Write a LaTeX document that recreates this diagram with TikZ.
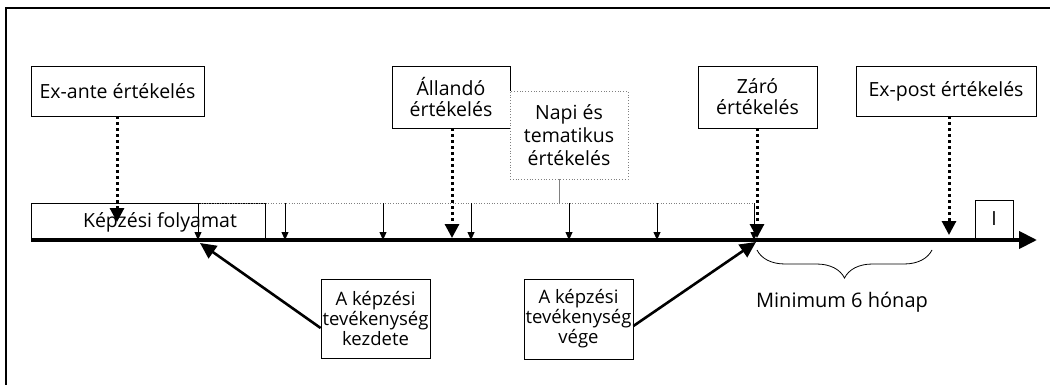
\documentclass[tikz,border=0pt]{standalone}
\usepackage{fontspec}
\setmainfont{Open Sans}
\usetikzlibrary{arrows.meta,decorations.pathreplacing,positioning}

\begin{document}
\begin{tikzpicture}[x=1pt,y=-1pt,
    box/.style={draw,line width=0.8pt,fill=white,align=center,inner sep=0pt,
                font=\fontsize{19.5}{21}\selectfont},
    smallbox/.style={box,font=\fontsize{18.5}{20}\selectfont},
    evalarrow/.style={line width=3pt,dash pattern=on 3pt off 3pt,
                      -{Triangle[width=14pt,length=14pt]}},
    tickarrow/.style={line width=0.8pt,-{Triangle[width=7pt,length=8pt]}},
    pointer/.style={line width=2.6pt,-{Triangle[width=15pt,length=16pt]}}]
  \useasboundingbox (0,0) rectangle (1050,385);
  \draw[line width=1.2pt] (1050,8) -- (6,8) -- (6,385);

  % evaluation boxes
  \node[box,minimum width=173pt,minimum height=50pt] (exante) at (117.5,91) {Ex-ante értékelés};
  \node[box,minimum width=118pt,minimum height=62pt] (allando) at (451,97) {Állandó\\értékelés};
  \node[box,draw=gray,dotted,minimum width=118pt,minimum height=88pt,
        font=\fontsize{19.5}{23}\selectfont] (napi) at (569,135) {Napi és\\tematikus\\értékelés};
  \node[box,minimum width=119pt,minimum height=62pt] (zaro) at (757.5,97) {Záró\\értékelés};
  \node[box,minimum width=180pt,minimum height=50pt] (expost) at (946,91) {Ex-post értékelés};

  % process and end marks
  \node[box,minimum width=234pt,minimum height=38pt] (folyamat) at (148,222) {\hspace{24pt}Képzési folyamat};
  \node[box,minimum width=38pt,minimum height=38pt] (end) at (994,219) {I};
  \node[smallbox,minimum width=109pt,minimum height=79pt] (kezdete) at (375.5,318.5) {A képzési\\tevékenység\\kezdete};
  \node[smallbox,minimum width=109pt,minimum height=80pt] (vege) at (578.5,319) {A képzési\\tevékenység\\vége};

  \coordinate (start) at (200,243);
  \coordinate (finish) at (756,242);
  \coordinate (tip) at (1037,240);

  % daily evaluations
  \draw[gray,dotted,line width=0.6pt] (198,203) -- (754,203);
  \draw[gray,line width=0.6pt] (napi.south -| 559,0) -- (559,203);
  \foreach \x in {198,285,383,471,569,657,754}
    \draw[tickarrow] (\x,203) -- (\x,240);

  % time line
  \draw[line width=4pt,-{Triangle[width=17pt,length=18pt]}] (31,240) -- (tip);

  \draw[evalarrow] (exante.south -| 117,0) -- (117,222);
  \draw[evalarrow] (allando.south -| 452,0) -- (452,238);
  \draw[evalarrow] (zaro.south -| 757,0) -- (757,238);
  \draw[evalarrow] (expost.south -| 949,0) -- (949,235);

  \draw[pointer] ([yshift=-9.5pt]kezdete.west) -- (start);
  \draw[pointer] ([yshift=-7pt]vege.east) -- (finish);

  \draw[line width=0.8pt,decorate,decoration={brace,mirror,amplitude=28pt}] (757,250) -- (932,250);
  \node[font=\fontsize{20}{22}\selectfont] (minimum) at (842,302) {Minimum 6 hónap};
\end{tikzpicture}
\end{document}
